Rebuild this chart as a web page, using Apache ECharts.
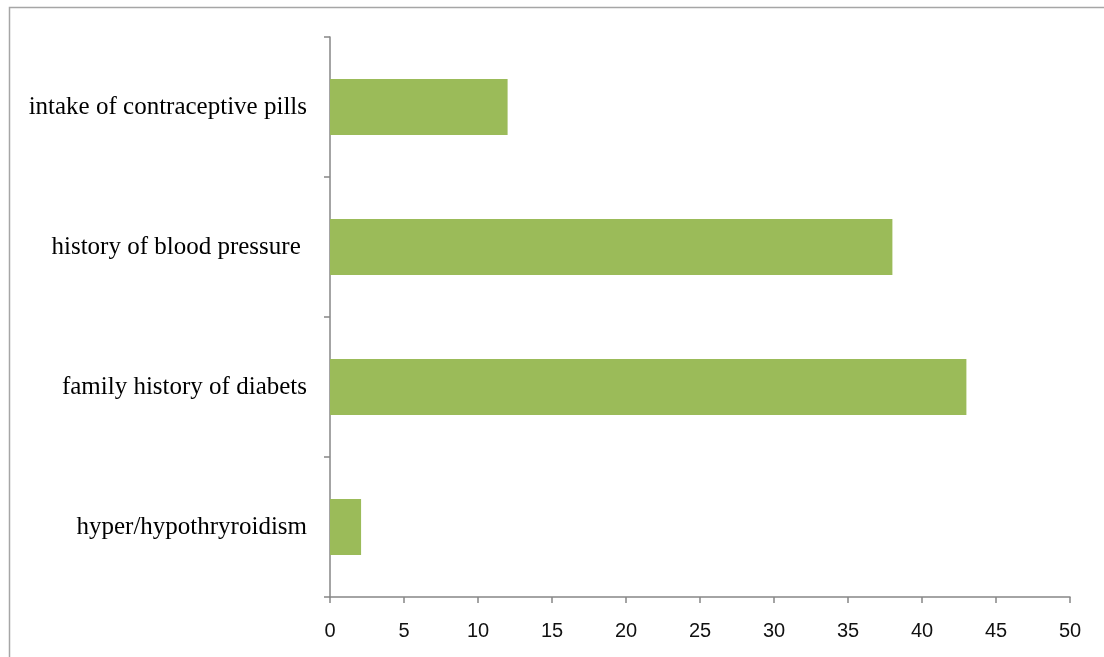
<!DOCTYPE html>
<html>
<head>
<meta charset="utf-8">
<script src="https://cdn.jsdelivr.net/npm/echarts@6/dist/echarts.min.js"></script>
<style>
  html, body { margin: 0; padding: 0; background: #fff; }
  #main { width: 1104px; height: 657px; }
</style>
</head>
<body>
<div id="main"></div>
<script>
// bottom to top, as on the category axis
const categories = [
  'hyper/hypothryroidism',
  'family history of diabets',
  'history of blood pressure ',
  'intake of contraceptive pills'
];
const values = [2.1, 43, 38, 12];
const xTicks = { min: 0, max: 50, interval: 5 };

const chart = echarts.init(document.getElementById('main'), null, { renderer: 'canvas' });

const axisGray = '#868686';

const option = {
  animation: false,
  backgroundColor: '#fff',
  graphic: [
    {
      // outer chart frame (only top and left edges are inside the view)
      type: 'rect',
      shape: { x: 9.5, y: 7.5, width: 1200, height: 800 },
      style: { fill: 'none', stroke: '#a6a6a6', lineWidth: 1.5 },
      silent: true
    }
  ],
  grid: { left: 330, right: 34, top: 37, bottom: 60 },
  xAxis: {
    type: 'value',
    min: xTicks.min,
    max: xTicks.max,
    interval: xTicks.interval,
    splitLine: { show: false },
    axisLine: { show: true, lineStyle: { color: axisGray, width: 1.5 } },
    axisTick: { show: true, length: 6, lineStyle: { color: axisGray, width: 1.5 } },
    axisLabel: {
      color: '#111',
      fontFamily: 'Liberation Sans',
      fontSize: 20,
      margin: 24
    }
  },
  yAxis: {
    type: 'category',
    data: categories,
    axisLine: { show: true, lineStyle: { color: axisGray, width: 1.5 } },
    axisTick: { show: true, length: 6, lineStyle: { color: axisGray, width: 1.5 } },
    axisLabel: {
      color: '#000',
      fontFamily: 'Liberation Serif',
      fontSize: 25,
      margin: 23
    },
    splitLine: { show: false }
  },
  series: [
    {
      type: 'bar',
      data: values,
      barWidth: '40%',
      itemStyle: { color: '#9BBB59' }
    }
  ]
};

chart.setOption(option);
</script>
</body>
</html>
